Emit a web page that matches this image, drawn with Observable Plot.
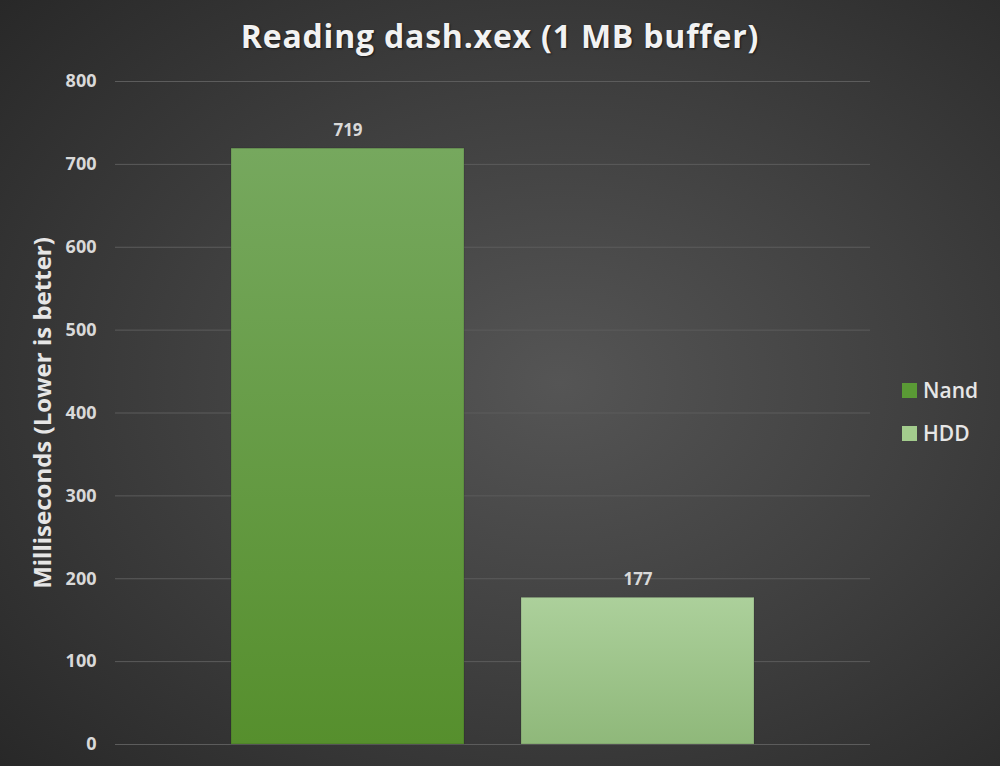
<!DOCTYPE html>
<html>
<head>
<meta charset="utf-8">
<script src="https://cdn.jsdelivr.net/npm/d3@7"></script>
<script src="https://cdn.jsdelivr.net/npm/@observablehq/plot@0.6"></script>
<style>
  html, body { margin: 0; padding: 0; }
  body {
    width: 1000px; height: 766px; overflow: hidden;
    background: radial-gradient(ellipse 75% 75% at 56% 50%, #555555 0%, #3f3f3f 50%, #282828 100%);
    font-family: "Open Sans", "Noto Sans", sans-serif;
  }
  #wrap { position: relative; width: 1000px; height: 766px; }
  #title {
    position: absolute; left: 0; top: 14px; width: 1000px; text-align: center;
    color: #f2f2f2; font-weight: 700; font-size: 32px; letter-spacing: 0.8px;
    text-shadow: 1px 1px 2px rgba(0,0,0,0.6);
  }
  #legend { position: absolute; left: 902px; top: 376px; color: #e6e6e6; font-weight: 600; font-size: 21px; }
  #legend div { display: flex; align-items: center; height: 28px; margin-bottom: 15px; }
  #legend span.sw { display: inline-block; width: 15px; height: 15px; margin-right: 6px; }
  #chart { position: absolute; left: 0; top: 0; }
</style>
</head>
<body>
<div id="wrap">
  <div id="chart"></div>
  <div id="title">Reading dash.xex (1 MB buffer)</div>
  <div id="legend"></div>
</div>
<script>
// Read times for the two storage devices
const devices = ["Nand", "HDD"];
const milliseconds = [719, 177];
const yTicks = [0, 100, 200, 300, 400, 500, 600, 700, 800];
const gradientIds = ["grad-nand", "grad-hdd"];
const swatchColors = ["#5a9a35", "#a3cc8d"];

const rows = devices.map((d, i) => ({device: d, ms: milliseconds[i], fill: `url(#${gradientIds[i]})`}));

const plot = Plot.plot({
  width: 1000,
  height: 766,
  marginTop: 81,
  marginBottom: 22,
  marginLeft: 115,
  marginRight: 130,
  style: {background: "transparent", fontFamily: "'Open Sans', 'Noto Sans', sans-serif"},
  x: {domain: devices, paddingInner: 0.197, paddingOuter: 0.4, axis: null},
  y: {domain: [0, 800], ticks: yTicks},
  marks: [
    Plot.gridY(yTicks, {stroke: "#5c5c5c", strokeOpacity: 1, strokeWidth: 1}),
    Plot.axisY(yTicks, {
      tickSize: 0, tickPadding: 19, fontSize: 18, fontWeight: 700, fill: "#d9d9d9",
      label: null
    }),
    Plot.text(["Milliseconds (Lower is better)"], {
      frameAnchor: "left", textAnchor: "middle", dx: -72, rotate: -90,
      fontSize: 24, fontWeight: 700, fill: "#e6e6e6"
    }),
    Plot.barY(rows, {
      x: "device", y: "ms", fill: "fill",
      stroke: "rgba(0,0,0,0.15)", strokeWidth: 1,
      style: "filter: drop-shadow(2px 1px 3px rgba(0,0,0,0.45))"
    }),
    Plot.text(rows, {
      x: "device", y: "ms", text: d => String(d.ms), dy: -18,
      fontSize: 17, fontWeight: 700, fill: "#d9d9d9"
    })
  ]
});

// Vertical gradients used by the bars
const svg = d3.select(plot);
const defs = svg.insert("defs", ":first-child");
const stops = [["#76a85e", "#568f2d"], ["#acd09b", "#8fb87a"]];
gradientIds.forEach((id, i) => {
  const g = defs.append("linearGradient").attr("id", id).attr("x1", 0).attr("y1", 0).attr("x2", 0).attr("y2", 1);
  g.append("stop").attr("offset", "0%").attr("stop-color", stops[i][0]);
  g.append("stop").attr("offset", "100%").attr("stop-color", stops[i][1]);
});

document.getElementById("chart").appendChild(plot);

const legend = document.getElementById("legend");
devices.forEach((d, i) => {
  const row = document.createElement("div");
  row.innerHTML = `<span class="sw" style="background:${swatchColors[i]}"></span>${d}`;
  legend.appendChild(row);
});
</script>
</body>
</html>
